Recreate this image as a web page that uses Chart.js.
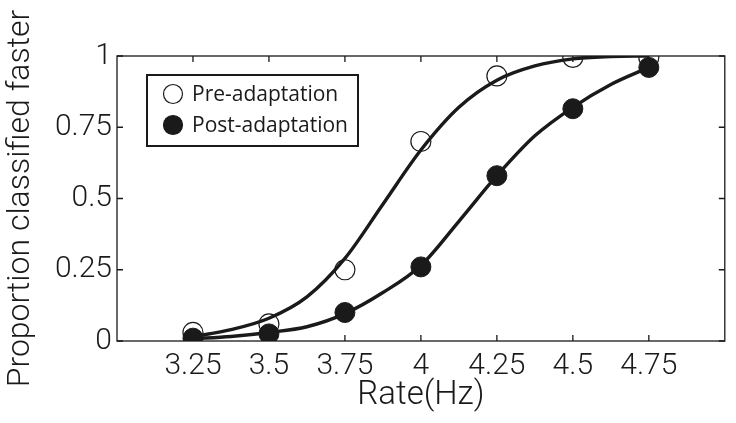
<!DOCTYPE html>
<html lang="en">
<head>
  <meta charset="UTF-8">
  <title>Proportion classified faster</title>
  <script src="https://cdn.jsdelivr.net/npm/chart.js"></script>
  <style>
    body {
      margin: 0;
      background: #fff;
    }
    canvas {
      display: block;
    }
  </style>
</head>
<body>
  <canvas id="chart" width="736" height="423"></canvas>

  <script>
    // stimulus rates (Hz) where data were measured
    const rates = [3.25, 3.5, 3.75, 4, 4.25, 4.5, 4.75];
    const preData = [0.03, 0.06, 0.25, 0.70, 0.93, 0.995, 0.995];
    const postData = [0.01, 0.025, 0.10, 0.26, 0.58, 0.815, 0.96];

    // fitted curves
    const curveRates = [3.25, 3.375, 3.5, 3.625, 3.75, 3.875, 4, 4.125, 4.25, 4.375, 4.5, 4.625, 4.75];
    const preCurve = [0.015, 0.04, 0.08, 0.155, 0.29, 0.48, 0.67, 0.82, 0.915, 0.965, 0.99, 0.998, 1.0];
    const postCurve = [0.008, 0.016, 0.03, 0.05, 0.096, 0.17, 0.265, 0.42, 0.58, 0.72, 0.82, 0.9, 0.96];

    const xTicks = [3.25, 3.5, 3.75, 4, 4.25, 4.5, 4.75];
    const yTicks = [0, 0.25, 0.5, 0.75, 1];

    const ink = '#1a1a1a';
    const tickFont = { family: 'Roboto', size: 30, weight: 300 };

    function pairs(xs, ys) {
      return xs.map((x, i) => ({ x: x, y: ys[i] }));
    }

    // box around the plot plus inward tick marks on all four sides
    const framePlugin = {
      id: 'frame',
      afterDraw(chart) {
        const ctx = chart.ctx;
        const a = chart.chartArea;
        const xs = chart.scales.x, ys = chart.scales.y;
        ctx.save();
        ctx.strokeStyle = ink;
        ctx.lineWidth = 1.3;
        ctx.strokeRect(a.left, a.top, a.right - a.left, a.bottom - a.top);
        ctx.beginPath();
        xTicks.forEach(v => {
          const px = xs.getPixelForValue(v);
          ctx.moveTo(px, a.bottom); ctx.lineTo(px, a.bottom - 6);
          ctx.moveTo(px, a.top); ctx.lineTo(px, a.top + 6);
        });
        yTicks.forEach(v => {
          const py = ys.getPixelForValue(v);
          ctx.moveTo(a.left, py); ctx.lineTo(a.left + 6, py);
          ctx.moveTo(a.right, py); ctx.lineTo(a.right - 6, py);
        });
        ctx.stroke();
        ctx.restore();
      }
    };

    // legend box in the upper left of the plot
    const legendPlugin = {
      id: 'boxLegend',
      afterDraw(chart) {
        const ctx = chart.ctx;
        const a = chart.chartArea;
        const left = a.left + 30, top = a.top + 19;
        const w = 211, h = 71;
        ctx.save();
        ctx.fillStyle = '#fff';
        ctx.fillRect(left, top, w, h);
        ctx.strokeStyle = ink;
        ctx.lineWidth = 2;
        ctx.strokeRect(left, top, w, h);

        const items = [chart.data.datasets[2], chart.data.datasets[3]];
        ctx.font = '21px "Open Sans"';
        ctx.textBaseline = 'middle';
        items.forEach((ds, i) => {
          const cy = top + 19 + i * 31;
          ctx.beginPath();
          ctx.arc(left + 26, cy, 9.5, 0, Math.PI * 2);
          if (ds.backgroundColor !== 'transparent') {
            ctx.fillStyle = ds.backgroundColor;
            ctx.fill();
          }
          ctx.lineWidth = 1.2;
          ctx.strokeStyle = ink;
          ctx.stroke();
          ctx.fillStyle = ink;
          ctx.fillText(ds.label, left + 45, cy + 1);
        });
        ctx.restore();
      }
    };

    new Chart(document.getElementById('chart'), {
      type: 'scatter',
      data: {
        datasets: [
          {
            label: 'Pre fit',
            data: pairs(curveRates, preCurve),
            showLine: true,
            borderColor: ink,
            borderWidth: 3.4,
            pointRadius: 0,
            cubicInterpolationMode: 'monotone'
          },
          {
            label: 'Post fit',
            data: pairs(curveRates, postCurve),
            showLine: true,
            borderColor: ink,
            borderWidth: 3.4,
            pointRadius: 0,
            cubicInterpolationMode: 'monotone'
          },
          {
            label: 'Pre-adaptation',
            data: pairs(rates, preData),
            backgroundColor: 'transparent',
            borderColor: ink,
            borderWidth: 1.2,
            pointRadius: 10
          },
          {
            label: 'Post-adaptation',
            data: pairs(rates, postData),
            backgroundColor: ink,
            borderColor: ink,
            borderWidth: 1,
            pointRadius: 10
          }
        ]
      },
      options: {
        responsive: false,
        animation: false,
        devicePixelRatio: 1,
        layout: { padding: { top: 56, right: 9, left: 0, bottom: 0 } },
        plugins: {
          legend: { display: false },
          tooltip: { enabled: false }
        },
        scales: {
          x: {
            type: 'linear',
            min: 3,
            max: 5,
            afterBuildTicks: s => { s.ticks = xTicks.map(v => ({ value: v })); },
            afterFit: s => { s.height = 82; },
            grid: { display: false, drawTicks: false },
            border: { display: false },
            ticks: {
              color: ink,
              font: tickFont,
              padding: 7,
              maxRotation: 0,
              autoSkip: false,
              callback: v => String(v)
            },
            title: {
              display: true,
              text: 'Rate(Hz)',
              color: ink,
              font: { family: 'Roboto', size: 33, weight: 300 },
              padding: { top: 0, bottom: 7 }
            }
          },
          y: {
            min: 0,
            max: 1,
            afterBuildTicks: s => { s.ticks = yTicks.map(v => ({ value: v })); },
            afterFit: s => { s.width = 117; },
            grid: { display: false, drawTicks: false },
            border: { display: false },
            ticks: {
              color: ink,
              font: tickFont,
              padding: 5,
              callback: v => String(v)
            },
            title: {
              display: true,
              text: 'Proportion classified faster',
              color: ink,
              font: { family: 'Roboto', size: 32, weight: 300 },
              padding: { top: 2, bottom: 0 }
            }
          }
        }
      },
      plugins: [framePlugin, legendPlugin]
    });
  </script>
</body>
</html>
